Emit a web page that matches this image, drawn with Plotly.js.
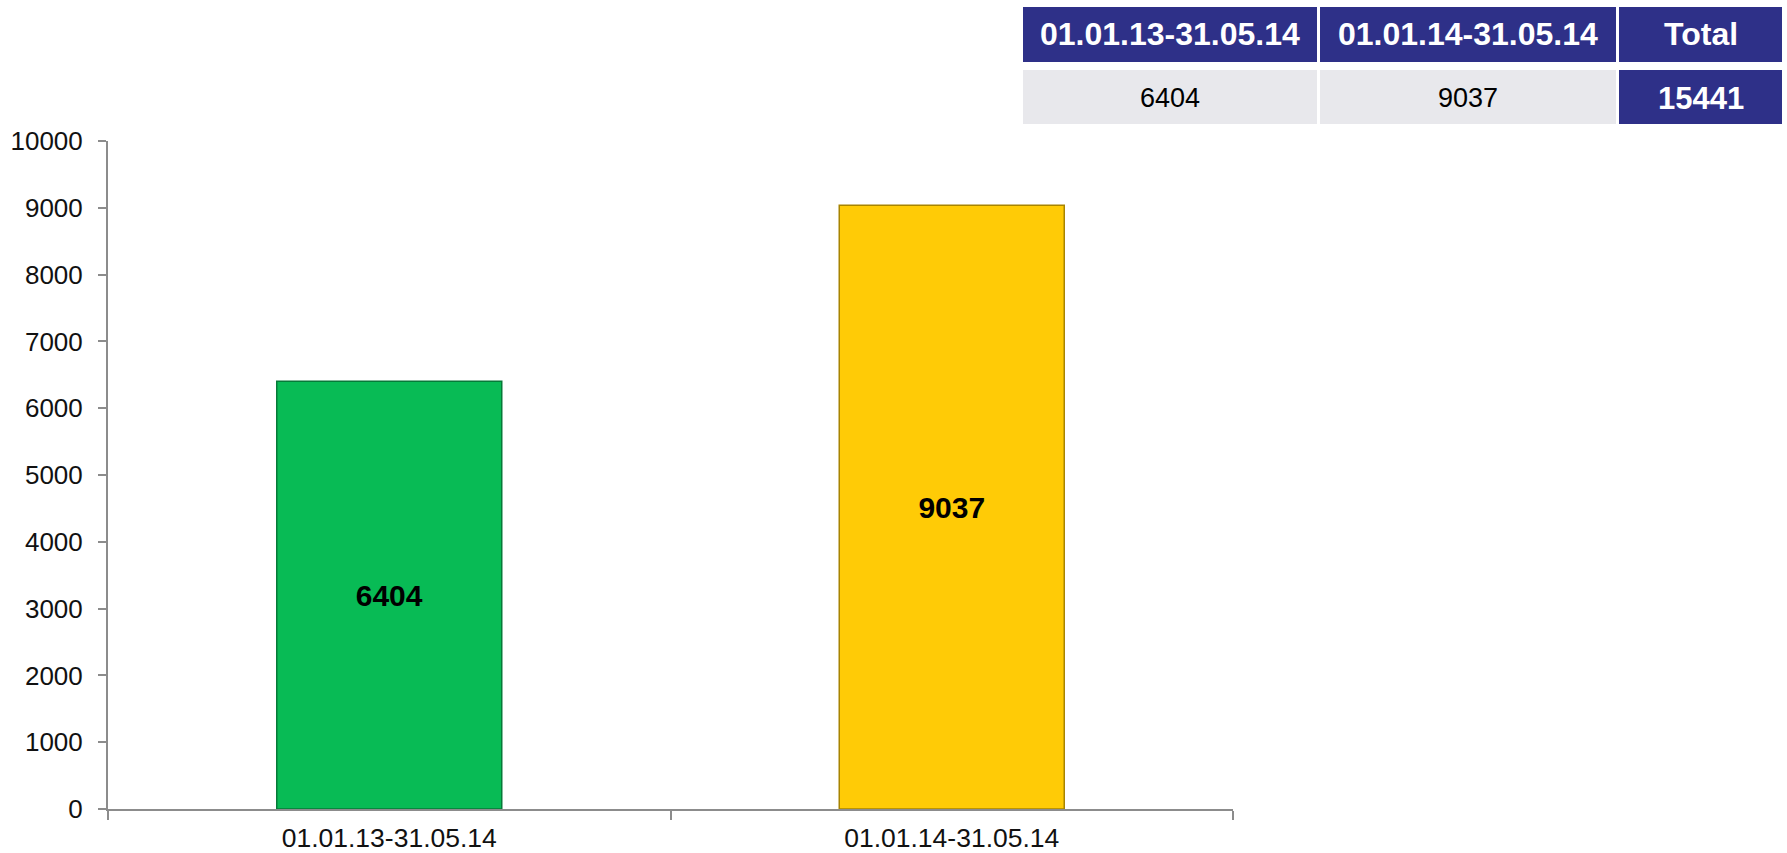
<!DOCTYPE html>
<html>
<head>
<meta charset="utf-8">
<script src="https://cdn.plot.ly/plotly-3.0.1.min.js"></script>
<style>
html,body{margin:0;padding:0;background:#fff;}
#chart{width:1787px;height:853px;}
</style>
</head>
<body>
<div id="chart"></div>
<script>
const categories = ["01.01.13-31.05.14", "01.01.14-31.05.14"];
const values = [6404, 9037];
const barColors = ["#08BB55", "#FFCB06"];
const barEdges = ["#067a38", "#a88400"];
const tableHeaders = ["01.01.13-31.05.14", "01.01.14-31.05.14", "Total"];
const total = values[0] + values[1];
const tableRow = [values[0], values[1], total];
const yTicks = [0,1000,2000,3000,4000,5000,6000,7000,8000,9000,10000];

const W = 1787, H = 853;
const FONT = '"Liberation Sans", Arial, sans-serif';
const NAVY = "#2E3088";
const GREY = "#E8E8EC";

const colWidths = [296, 298, 166];
const tblX = [1021.5/W, 1784.2/W];
const hdrTop = 5.2, hdrH = 58;
const rowTop = 68.5, rowH = 57;

const bars = {
  type: "bar",
  x: categories,
  y: values,
  width: 0.4,
  marker: {color: barColors, line: {color: barEdges, width: 1.5}},
  texttemplate: "<b>%{y}</b>",
  textposition: "inside",
  insidetextanchor: "middle",
  textfont: {family: FONT, size: 30, color: "#000"},
  hoverinfo: "skip",
  showlegend: false
};

const headerTable = {
  type: "table",
  domain: {x: tblX, y: [0, 1 - hdrTop/H]},
  columnwidth: colWidths,
  header: {
    values: tableHeaders.map(() => ""),
    height: hdrH,
    fill: {color: NAVY},
    line: {color: "#ffffff", width: 3}
  },
  cells: {values: [[], [], []]}
};

const dataTable = {
  type: "table",
  domain: {x: tblX, y: [0, 1 - rowTop/H]},
  columnwidth: colWidths,
  header: {
    values: tableRow.map(() => ""),
    height: rowH,
    fill: {color: [GREY, GREY, NAVY]},
    line: {color: "#ffffff", width: 3}
  },
  cells: {values: [[], [], []]}
};

// column centres derived from the table geometry
const wSum = colWidths.reduce((a, b) => a + b, 0);
const colCenters = [];
let acc = 0;
colWidths.forEach(w => { colCenters.push(tblX[0] + (acc + w/2)/wSum * (tblX[1] - tblX[0])); acc += w; });

const annotations = [];
tableHeaders.forEach((t, i) => annotations.push({
  xref: "paper", yref: "paper", x: colCenters[i], y: 1 - (hdrTop + hdrH/2)/H,
  xanchor: "center", yanchor: "middle", showarrow: false,
  text: "<b>" + t + "</b>", font: {family: FONT, size: 32, color: "#ffffff"}
}));
tableRow.forEach((v, i) => annotations.push({
  xref: "paper", yref: "paper", x: colCenters[i], y: 1 - (rowTop + rowH/2 + 1)/H,
  xanchor: "center", yanchor: "middle", showarrow: false,
  text: i === 2 ? "<b>" + v + "</b>" : String(v),
  font: {family: FONT, size: i === 2 ? 31 : 27, color: i === 2 ? "#ffffff" : "#000000"}
}));

const layout = {
  width: W, height: H,
  margin: {l: 0, r: 0, t: 0, b: 0, pad: 0},
  paper_bgcolor: "#ffffff",
  plot_bgcolor: "#ffffff",
  font: {family: FONT, color: "#111"},
  showlegend: false,
  annotations: annotations,
  xaxis: {
    domain: [108/W, 1233/W],
    type: "category",
    showline: true, linecolor: "#8c8c8c", linewidth: 2,
    ticks: "outside", tickson: "boundaries", ticklen: 9, tickcolor: "#8c8c8c", tickwidth: 2,
    tickfont: {family: FONT, size: 26.5, color: "#111"},
    showgrid: false, zeroline: false, automargin: false,
    ticklabelstandoff: 4
  },
  yaxis: {
    domain: [1 - 809/H, 1 - 141/H],
    range: [0, 10000],
    tickvals: yTicks,
    ticktext: yTicks.map(String),
    showline: true, linecolor: "#8c8c8c", linewidth: 2,
    ticks: "outside", ticklen: 8, tickcolor: "#8c8c8c", tickwidth: 2,
    tickfont: {family: FONT, size: 26, color: "#111"},
    showgrid: false, zeroline: false, automargin: false,
    ticklabelstandoff: 10
  }
};

Plotly.newPlot("chart", [bars, headerTable, dataTable], layout, {displayModeBar: false, staticPlot: true});
</script>
</body>
</html>
